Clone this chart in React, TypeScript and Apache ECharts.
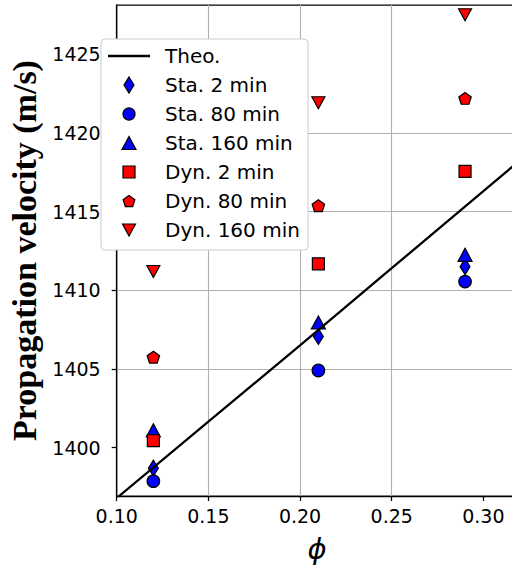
import React, { useEffect, useRef } from "react";
import * as echarts from "echarts";

// Volume fraction positions of the measurements
const phi = [0.12, 0.21, 0.29];

// Measured propagation velocities (m/s)
const sta2 = [1398.7, 1407.06, 1411.5];
const sta80 = [1397.87, 1404.9, 1410.55];
const sta160 = [1401.1, 1407.95, 1412.25];
const dyn2 = [1400.45, 1411.68, 1417.55];
const dyn80 = [1405.75, 1415.37, 1422.19];
const dyn160 = [1411.19, 1421.91, 1427.5];

// Theoretical curve
const theoPhi = [0.1, 0.15, 0.2, 0.25, 0.3, 0.35];
const theoVel = [1396.8, 1401.65, 1406.5, 1411.4, 1416.3, 1421.2];

// Tick positions
const xTicks = [0.1, 0.15, 0.2, 0.25, 0.3];
const yTicks = [1400, 1405, 1410, 1415, 1420, 1425];

const seriesNames = [
  "Theo.",
  "Sta. 2 min",
  "Sta. 80 min",
  "Sta. 160 min",
  "Dyn. 2 min",
  "Dyn. 80 min",
  "Dyn. 160 min",
];

const BLUE = "#0000ff";
const RED = "#ff0000";
const EDGE = { borderColor: "#000", borderWidth: 1.2 };

const PENTAGON =
  "path://M0,-100L95.1,-30.9L58.8,80.9L-58.8,80.9L-95.1,-30.9Z";

function pentagonPoints(r: number): number[][] {
  const pts: number[][] = [];
  for (let i = 0; i < 5; i++) {
    const a = ((-90 + i * 72) * Math.PI) / 180;
    pts.push([r * Math.cos(a), r * Math.sin(a) + r * 0.1]);
  }
  return pts;
}

function pairs(xs: number[], ys: number[]) {
  return xs.map((x, i) => [x, ys[i]]);
}

export default function App() {
  const ref = useRef<HTMLDivElement>(null);

  useEffect(() => {
    if (!ref.current) return;
    const chart = echarts.init(ref.current, undefined, { renderer: "svg" });

    const font = "DejaVu Sans";
    const legendX = 129;
    const legendY0 = 56;
    const legendStep = 29;
    const edgeStyle = { stroke: "#000", lineWidth: 1.2 };

    const legendMarkers: any[] = [
      { type: "line", shape: { x1: -21, y1: 0, x2: 21, y2: 0 }, style: { stroke: "#000", lineWidth: 2.3 } },
      { type: "polygon", shape: { points: [[0, -8], [5, 0], [0, 8], [-5, 0]] }, style: { fill: BLUE, ...edgeStyle } },
      { type: "circle", shape: { cx: 0, cy: 0, r: 6 }, style: { fill: BLUE, ...edgeStyle } },
      { type: "polygon", shape: { points: [[0, -6.5], [7, 6.5], [-7, 6.5]] }, style: { fill: BLUE, ...edgeStyle } },
      { type: "rect", shape: { x: -6, y: -6, width: 12, height: 12 }, style: { fill: RED, ...edgeStyle } },
      { type: "polygon", shape: { points: pentagonPoints(6.2) }, style: { fill: RED, ...edgeStyle } },
      { type: "polygon", shape: { points: [[-6.5, -6], [6.5, -6], [0, 6]] }, style: { fill: RED, ...edgeStyle } },
    ];

    const legendGraphics: any[] = [
      {
        type: "rect",
        shape: { x: 101, y: 39, width: 207, height: 211, r: 4 },
        style: { fill: "#ffffff", stroke: "#cccccc", lineWidth: 1 },
        z: 100,
      },
    ];
    seriesNames.forEach((name, i) => {
      const y = legendY0 + i * legendStep;
      legendGraphics.push({
        type: "group",
        x: legendX,
        y,
        z: 101,
        children: [{ ...legendMarkers[i], z: 101 }],
      });
      legendGraphics.push({
        type: "text",
        x: 165,
        y,
        z: 101,
        style: {
          text: name,
          fontFamily: font,
          fontSize: 20,
          fill: "#000",
          textAlign: "left",
          verticalAlign: "middle",
        },
      });
    });

    const scatter = (name: string, ys: number[], color: string, symbol: string, size: number | number[], rotate = 0) => ({
      name,
      type: "scatter",
      data: pairs(phi, ys),
      symbol,
      symbolSize: size,
      symbolRotate: rotate,
      itemStyle: { color, ...EDGE, opacity: 1 },
      emphasis: { disabled: true },
    });

    chart.setOption({
      animation: false,
      backgroundColor: "#ffffff",
      grid: {
        left: 116.7,
        right: 12.7,
        top: 5,
        bottom: 76,
        containLabel: false,
        outerBoundsMode: "none",
        show: true,
        borderColor: "#000",
        borderWidth: 1.25,
        backgroundColor: "#ffffff",
      },
      xAxis: {
        type: "value",
        min: 0.1,
        max: 0.3185,
        interval: 0.05,
        name: "\u03d5",
        nameLocation: "middle",
        nameGap: 38,
        nameTextStyle: { fontFamily: font, fontStyle: "italic", fontSize: 29, color: "#000" },
        axisLine: { show: true, onZero: false, lineStyle: { color: "#000", width: 1.25 } },
        axisTick: { show: true, inside: false, length: 5, customValues: xTicks, lineStyle: { color: "#000", width: 1.25 } },
        axisLabel: {
          customValues: xTicks,
          formatter: (v: number) => v.toFixed(2),
          fontFamily: font,
          fontSize: 19,
          color: "#000",
          margin: 10,
        },
        splitLine: { show: true, showMaxLine: false, showMinLine: false, lineStyle: { color: "#b0b0b0", width: 1.1 } },
      },
      yAxis: {
        type: "value",
        min: 1396.93,
        max: 1428.12,
        minInterval: 5,
        maxInterval: 5,
        name: "Propagation velocity (m/s)",
        nameLocation: "middle",
        nameRotate: 90,
        nameGap: 56,
        nameTextStyle: { fontFamily: "Liberation Serif", fontWeight: "bold", fontSize: 34, color: "#000" },
        axisLine: { show: true, onZero: false, lineStyle: { color: "#000", width: 1.25 } },
        axisTick: { show: true, inside: false, length: 5, customValues: yTicks, lineStyle: { color: "#000", width: 1.25 } },
        axisLabel: {
          customValues: yTicks,
          formatter: (v: number) => String(v),
          fontFamily: font,
          fontSize: 19,
          color: "#000",
          margin: 16,
        },
        splitLine: { show: true, showMaxLine: false, showMinLine: false, lineStyle: { color: "#b0b0b0", width: 1.1 } },
      },
      series: [
        {
          name: "Theo.",
          type: "line",
          data: pairs(theoPhi, theoVel),
          symbol: "none",
          showSymbol: false,
          clip: true,
          lineStyle: { color: "#000", width: 2.3 },
          emphasis: { disabled: true },
        },
        scatter("Sta. 2 min", sta2, BLUE, "diamond", [10, 16]),
        scatter("Sta. 80 min", sta80, BLUE, "circle", 12.5),
        scatter("Sta. 160 min", sta160, BLUE, "triangle", [14, 13]),
        scatter("Dyn. 2 min", dyn2, RED, "rect", 12),
        scatter("Dyn. 80 min", dyn80, RED, PENTAGON, [12.4, 11.8]),
        scatter("Dyn. 160 min", dyn160, RED, "triangle", [13, 12], 180),
      ],
      graphic: legendGraphics,
    });

    return () => chart.dispose();
  }, []);

  return (
    <div
      style={{
        position: "fixed",
        left: 0,
        top: 0,
        width: 512,
        height: 572,
        overflow: "hidden",
        background: "#ffffff",
      }}
    >
      <div ref={ref} style={{ width: 530, height: 572 }} />
    </div>
  );
}
